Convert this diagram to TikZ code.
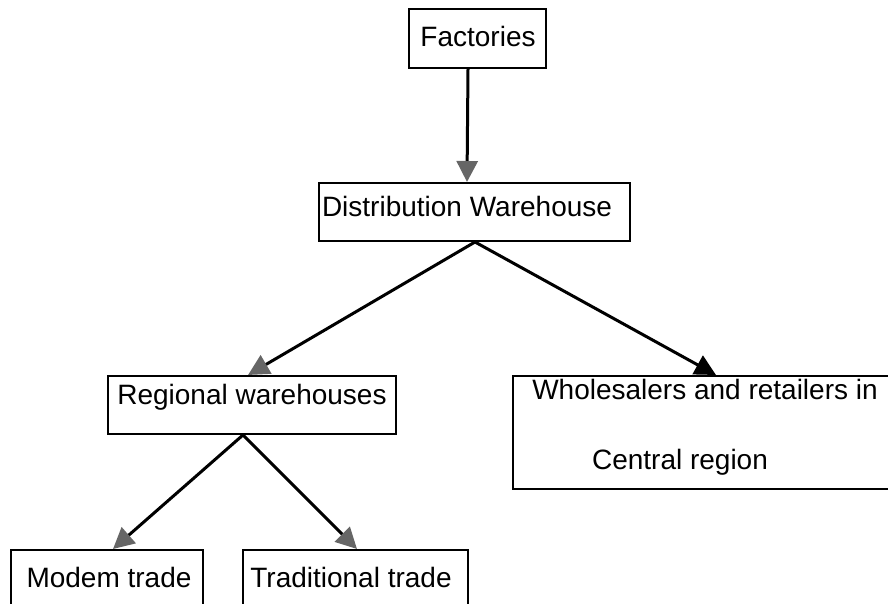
\documentclass[tikz,border=0pt]{standalone}
\usepackage{fontspec}
\setmainfont{Liberation Sans}
\usetikzlibrary{arrows.meta}
\definecolor{tipgray}{HTML}{666666}
\begin{document}
\begin{tikzpicture}[x=1pt,y=-1pt,
  box/.style={draw=black, line width=2pt, rectangle, inner sep=0pt},
  lbl/.style={anchor=base, inner sep=0pt, font=\fontsize{28}{34}\selectfont},
  conn/.style={line width=3pt, draw=black},
  graytip/.style={-{Triangle[length=21pt,width=21pt,color=tipgray]}},
  blacktip/.style={-{Triangle[length=21pt,width=21pt,color=black]}}]
\useasboundingbox (0,0) rectangle (888,604);
\clip (0,0) rectangle (888,604);
% boxes
\node[box, minimum width=137pt, minimum height=59pt] (fac) at (477.5,38.5) {};
\node[box, minimum width=311pt, minimum height=58pt] (dist) at (474.5,212) {};
\node[box, minimum width=288pt, minimum height=58pt] (reg) at (252,405) {};
\node[box, minimum width=387pt, minimum height=113pt] (whl) at (706.5,432.5) {};
\node[box, minimum width=192pt, minimum height=70pt] (mod) at (107,585) {};
\node[box, minimum width=225pt, minimum height=70pt] (trad) at (355.5,585) {};
% labels
\node[lbl] (facT) at (478,47) {Factories};
\node[lbl] (distT) at (467,216) {Distribution Warehouse};
\node[lbl] (regT) at (252,404) {Regional warehouses};
\node[lbl] (whlT1) at (705,399) {Wholesalers and retailers in};
\node[lbl] (whlT2) at (680,469) {Central region};
\node[lbl] (modT) at (109,587) {Modem trade};
\node[lbl] (tradT) at (351,587) {Traditional trade};
% connectors
\draw[conn, graytip] ([xshift=-9.5pt]fac.south) -- ([xshift=-7.5pt]dist.north);
\draw[conn, graytip] ([xshift=0.5pt]dist.south) -- ([xshift=-4pt]reg.north);
\draw[conn, blacktip] ([xshift=0.5pt]dist.south) -- ([xshift=9.5pt]whl.north);
\draw[conn, graytip] ([xshift=-9pt]reg.south) -- ([xshift=6pt]mod.north);
\draw[conn, graytip] ([xshift=-9pt]reg.south) -- ([xshift=1.5pt]trad.north);
\end{tikzpicture}
\end{document}
